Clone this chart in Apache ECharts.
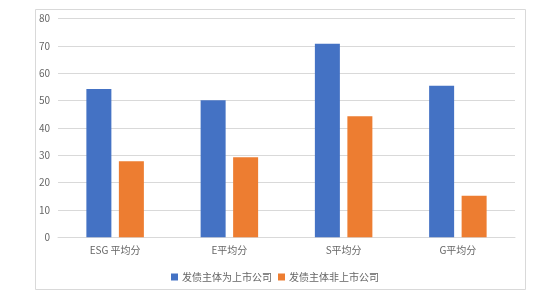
<!DOCTYPE html>
<html>
<head>
<meta charset="utf-8">
<script src="https://cdn.jsdelivr.net/npm/echarts@6/dist/echarts.min.js"></script>
<style>html,body{margin:0;padding:0;background:#fff;}#c{width:550px;height:297px;}</style>
</head>
<body>
<div id="c"></div>
<script>
var categories = ['ESG 平均分', 'E平均分', 'S平均分', 'G平均分'];
var seriesNames = ['发债主体为上市公司', '发债主体非上市公司'];
var listedValues = [54.3, 50.2, 70.8, 55.5];
var unlistedValues = [27.8, 29.3, 44.3, 15.2];
var yTicks = [0, 10, 20, 30, 40, 50, 60, 70, 80];

var font = '"Noto Sans CJK SC", "Noto Sans", sans-serif';
var chart = echarts.init(document.getElementById('c'), null, {renderer: 'canvas'});
chart.setOption({
  animation: false,
  backgroundColor: '#fff',
  graphic: [{
    type: 'rect', left: 33, top: 7,
    shape: {width: 490, height: 280},
    style: {fill: 'none', stroke: '#d9d9d9', lineWidth: 1}
  }],
  grid: {left: 58, right: 35, top: 18.7, bottom: 59.7},
  legend: {
    data: seriesNames,
    left: 'center', top: 267,
    itemWidth: 7, itemHeight: 7, itemGap: 6,
    icon: 'rect',
    textStyle: {color: '#666666', fontSize: 10, fontFamily: font, padding: [0, 0, 0, -1]}
  },
  xAxis: {
    type: 'category', data: categories,
    axisLine: {lineStyle: {color: '#d9d9d9'}},
    axisTick: {show: false},
    axisLabel: {color: '#666666', fontSize: 10, fontFamily: font, margin: 8}
  },
  yAxis: {
    type: 'value', min: yTicks[0], max: yTicks[yTicks.length - 1], interval: 10,
    axisLine: {show: false}, axisTick: {show: false},
    splitLine: {lineStyle: {color: '#d9d9d9'}},
    axisLabel: {color: '#666666', fontSize: 10, fontFamily: font, margin: 8}
  },
  series: [
    {name: seriesNames[0], type: 'bar', data: listedValues, barWidth: 25, barGap: '30%', itemStyle: {color: '#4472C4'}},
    {name: seriesNames[1], type: 'bar', data: unlistedValues, barWidth: 25, barGap: '30%', itemStyle: {color: '#ED7D31'}}
  ]
});
</script>
</body>
</html>
